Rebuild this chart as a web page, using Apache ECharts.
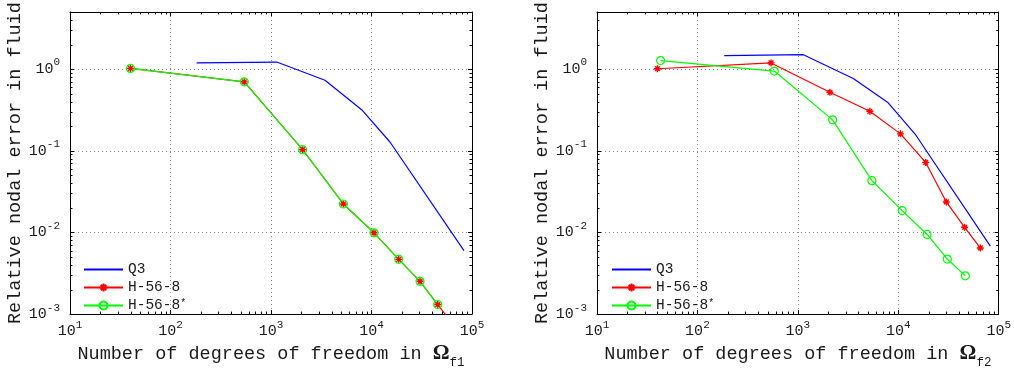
<!DOCTYPE html>
<html><head><meta charset="utf-8">
<script src="https://cdn.jsdelivr.net/npm/echarts@6/dist/echarts.min.js"></script>
<style>html,body{margin:0;padding:0;background:#fff}#c{width:1014px;height:374px}</style>
</head><body><div id="c"></div>
<script>
// ---------- data ----------
const seriesNames = ['Q3', 'H-56-8', 'H-56-8*'];
const seriesColors = ['#0000ff', '#ff0000', '#00ff00'];

const leftQ3Dof  = [182, 1140, 3445, 7980, 15270, 83200];
const leftQ3Err  = [1.19, 1.22, 0.73, 0.318, 0.128, 0.0060];
const leftHDof   = [40, 542, 2065, 5250, 10590, 18660, 30400, 45600, 65600];
const leftHErr   = [1.02, 0.698, 0.103, 0.0223, 0.0099, 0.00468, 0.00252, 0.00131, 0.00073];
const leftHsDof  = [40, 542, 2065, 5250, 10590, 18660, 30400, 45600];
const leftHsErr  = [1.02, 0.698, 0.103, 0.0223, 0.0099, 0.00468, 0.00252, 0.00131];

const rightQ3Dof = [185, 1135, 3565, 7940, 14930, 82600];
const rightQ3Err = [1.46, 1.50, 0.766, 0.386, 0.156, 0.0068];
const rightHDof  = [40, 541, 2085, 5210, 10520, 18750, 30100, 45800, 65600];
const rightHErr  = [1.01, 1.19, 0.52, 0.304, 0.161, 0.072, 0.0236, 0.01156, 0.00646];
const rightHsDof = [43, 583, 2220, 5460, 10940, 19360, 30800, 46600];
const rightHsErr = [1.27, 0.946, 0.239, 0.043, 0.0185, 0.00944, 0.00472, 0.00294];

const xMin = 10, xMax = 1e5;
const yMin = 1e-3, yMax = 5;
const yAxisTitle = 'Relative nodal error in fluid';
const xAxisTitleText = 'Number of degrees of freedom in ';
const xAxisSubscripts = ['f1', 'f2'];

// minor tick values (2..9 x 10^k) for the log axes
const xMinorTicks = [];
for (let e = 1; e < 5; e++) for (let m = 2; m <= 9; m++) xMinorTicks.push(m * Math.pow(10, e));
const yMinorTicks = [];
for (let e = -3; e <= 0; e++) for (let m = 2; m <= 9; m++) { const v = m * Math.pow(10, e); if (v < yMax) yMinorTicks.push(v); }

// ---------- helpers ----------
const FONT = 'Liberation Mono';
const TXT = '#1a1a1a';
const zip = (a, b) => a.map((v, i) => [v, b[i]]);

function powLabel(v) {
  const e = Math.round(Math.log10(v));
  if (Math.abs(v - Math.pow(10, e)) > 1e-9 * Math.pow(10, e)) return '';
  return '{b|10}{e|' + e + '}';
}
const tickRich = {
  b: { fontFamily: FONT, fontSize: 15, color: TXT, lineHeight: 24, verticalAlign: 'middle' },
  e: { fontFamily: FONT, fontSize: 11, color: TXT, lineHeight: 8, verticalAlign: 'top' }
};

const starPath = 'path://M5,0L5,10M0,5L10,5M1.6,1.6L8.4,8.4M1.6,8.4L8.4,1.6';

const grids = [
  { left: 70, width: 402, top: 12, height: 307 },
  { left: 597, width: 402, top: 12, height: 307 }
];

const xAxes = [], yAxes = [], series = [];
grids.forEach((g, gi) => {
  const common = { type: 'log', logBase: 10, gridIndex: gi };
  xAxes.push(Object.assign({}, common, {
    min: xMin, max: xMax, position: 'bottom',
    axisLine: { show: true, lineStyle: { color: '#000', width: 1 } },
    axisTick: { show: true, inside: true, length: 4, lineStyle: { color: '#000' } },
    splitLine: { show: true, lineStyle: { color: '#8a8a8a', type: [1, 3], width: 1 } },
    axisLabel: { formatter: powLabel, rich: tickRich, margin: 5, showMinLabel: true, showMaxLabel: true },
    name: '{t|' + xAxisTitleText + '}{o|Ω}{s|' + xAxisSubscripts[gi] + '}',
    nameLocation: 'middle', nameGap: 20,
    nameTextStyle: {
      rich: {
        t: { fontFamily: FONT, fontSize: 18.5, color: TXT, lineHeight: 30, verticalAlign: 'middle' },
        o: { fontFamily: 'Liberation Serif', fontWeight: 'bold', fontSize: 21, color: TXT, lineHeight: 30, verticalAlign: 'middle' },
        s: { fontFamily: FONT, fontSize: 12.5, color: TXT, lineHeight: 12, verticalAlign: 'bottom' }
      }
    }
  }));
  xAxes.push(Object.assign({}, common, {
    min: xMin, max: xMax, position: 'top',
    axisLine: { show: true, lineStyle: { color: '#000', width: 1 } },
    axisTick: { show: true, inside: true, length: 4, lineStyle: { color: '#000' } },
    splitLine: { show: false }, axisLabel: { show: false }
  }));
  yAxes.push(Object.assign({}, common, {
    min: yMin, max: yMax, position: 'left',
    axisLine: { show: true, lineStyle: { color: '#000', width: 1 } },
    axisTick: { show: true, inside: true, length: 4, lineStyle: { color: '#000' } },
    splitLine: { show: true, lineStyle: { color: '#8a8a8a', type: [1, 3], width: 1 } },
    axisLabel: { formatter: powLabel, rich: tickRich, margin: 10, showMinLabel: true, showMaxLabel: true },
    name: yAxisTitle, nameLocation: 'middle', nameGap: 37,
    nameTextStyle: { fontFamily: FONT, fontSize: 18.5, color: TXT, lineHeight: 20 }
  }));
  yAxes.push(Object.assign({}, common, {
    min: yMin, max: yMax, position: 'right',
    axisLine: { show: true, lineStyle: { color: '#000', width: 1 } },
    axisTick: { show: true, inside: true, length: 4, lineStyle: { color: '#000' } },
    splitLine: { show: false }, axisLabel: { show: false }
  }));
});

const panels = [
  { q3: zip(leftQ3Dof, leftQ3Err), h: zip(leftHDof, leftHErr), hs: zip(leftHsDof, leftHsErr) },
  { q3: zip(rightQ3Dof, rightQ3Err), h: zip(rightHDof, rightHErr), hs: zip(rightHsDof, rightHsErr) }
];

panels.forEach((p, gi) => {
  const xi = gi * 2, yi = gi * 2;
  series.push({
    name: seriesNames[0], type: 'line', xAxisIndex: xi, yAxisIndex: yi, data: p.q3,
    showSymbol: false, symbol: 'none', clip: true,
    lineStyle: { color: seriesColors[0], width: 1.2 }, itemStyle: { color: seriesColors[0] }
  });
  series.push({
    name: seriesNames[1], type: 'line', xAxisIndex: xi, yAxisIndex: yi, data: p.h,
    symbol: starPath, symbolSize: 7, clip: true,
    lineStyle: { color: seriesColors[1], width: 1.2 },
    itemStyle: { color: 'rgba(0,0,0,0)', borderColor: seriesColors[1], borderWidth: 1.4 }
  });
  series.push({
    name: seriesNames[2], type: 'line', xAxisIndex: xi, yAxisIndex: yi, data: p.hs,
    symbol: 'circle', symbolSize: 8, clip: true,
    lineStyle: { color: seriesColors[2], width: 1.2 },
    itemStyle: { color: 'rgba(0,0,0,0)', borderColor: seriesColors[2], borderWidth: 1.2 }
  });
  // minor ticks on all four sides
  const tickData = xMinorTicks.map(v => [v, yMin, 0]).concat(yMinorTicks.map(v => [xMin, v, 1]));
  series.push({
    type: 'custom', xAxisIndex: xi, yAxisIndex: yi, silent: true, z: 5,
    data: tickData, clip: false,
    renderItem: function (params, api) {
      const L = 2.5;
      const st = { stroke: '#000', lineWidth: 1 };
      if (api.value(2) === 0) {
        const v = api.value(0);
        const a = api.coord([v, yMin]), b = api.coord([v, yMax]);
        const x = Math.round(a[0]) + 0.5;
        return { type: 'group', children: [
          { type: 'line', shape: { x1: x, y1: a[1], x2: x, y2: a[1] - L }, style: st },
          { type: 'line', shape: { x1: x, y1: b[1], x2: x, y2: b[1] + L }, style: st }
        ] };
      } else {
        const v = api.value(1);
        const a = api.coord([xMin, v]), b = api.coord([xMax, v]);
        const y = Math.round(a[1]) + 0.5;
        return { type: 'group', children: [
          { type: 'line', shape: { x1: a[0], y1: y, x2: a[0] + L, y2: y }, style: st },
          { type: 'line', shape: { x1: b[0], y1: y, x2: b[0] - L, y2: y }, style: st }
        ] };
      }
    }
  });
});

const legendData = [
  { name: seriesNames[0], itemStyle: { color: 'rgba(0,0,0,0)', borderColor: 'rgba(0,0,0,0)', borderWidth: 0 } },
  { name: seriesNames[1] },
  { name: seriesNames[2] }
];

const legendCommon = {
  orient: 'vertical', top: 262, itemWidth: 39, itemHeight: 10, itemGap: 3, padding: 0,
  data: legendData, selectedMode: false,
  textStyle: {
    fontFamily: FONT, fontSize: 14.5, color: TXT, lineHeight: 14,
    rich: {
      n: { fontFamily: FONT, fontSize: 14.5, color: TXT, lineHeight: 14 },
      s: { fontFamily: FONT, fontSize: 10, color: TXT, lineHeight: 6, verticalAlign: 'top' }
    }
  },
  formatter: name => name === 'H-56-8*' ? '{n|H-56-8}{s|*}' : name
};

const option = {
  animation: false,
  backgroundColor: '#fff',
  textStyle: { fontFamily: FONT },
  grid: grids,
  xAxis: xAxes,
  yAxis: yAxes,
  legend: [Object.assign({ left: 83 }, legendCommon), Object.assign({ left: 611 }, legendCommon)],
  series: series
};

const chart = echarts.init(document.getElementById('c'), null, { renderer: 'canvas' });
chart.setOption(option);
</script>
</body></html>
